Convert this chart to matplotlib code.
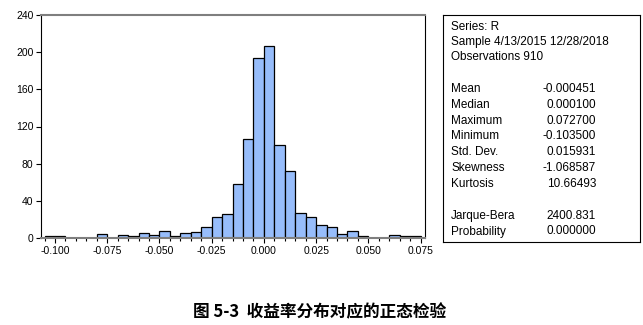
import matplotlib.pyplot as plt
import numpy as np

plt.rcParams['font.family'] = ['Liberation Sans', 'DejaVu Sans']

# histogram of daily returns, bin width 0.005
bin_left = [-0.105, -0.100, -0.095, -0.090, -0.085, -0.080, -0.075, -0.070, -0.065,
            -0.060, -0.055, -0.050, -0.045, -0.040, -0.035, -0.030, -0.025, -0.020,
            -0.015, -0.010, -0.005, 0.000, 0.005, 0.010, 0.015, 0.020, 0.025,
            0.030, 0.035, 0.040, 0.045, 0.050, 0.055, 0.060, 0.065, 0.070]
counts = [2, 2, 0, 0, 0, 4, 0, 3, 2,
          5, 3, 7, 2, 5, 6, 12, 23, 26,
          58, 107, 194, 207, 100, 72, 27, 23, 14,
          12, 4, 7, 2, 0, 0, 3, 2, 2]
bin_width = 0.005

stat_names = ['Mean', 'Median', 'Maximum', 'Minimum', 'Std. Dev.', 'Skewness', 'Kurtosis']
stat_values = ['-0.000451', '0.000100', '0.072700', '-0.103500', '0.015931', '-1.068587', '10.66493']
test_names = ['Jarque-Bera', 'Probability']
test_values = ['2400.831', '0.000000']
header = ['Series: R', 'Sample 4/13/2015 12/28/2018', 'Observations 910']

W, H = 643, 325
fig = plt.figure(figsize=(W / 100, H / 100), dpi=100)
ax = fig.add_axes([41 / W, 1 - 238 / H, (425 - 41) / W, (238 - 15) / H])

ax.bar(bin_left, counts, width=bin_width, align='edge', color='#97bdfb',
       edgecolor='black', linewidth=0.9)
ax.set_xlim(-0.1067, 0.0771)
ax.set_ylim(0, 240)
ax.set_yticks(np.arange(0, 241, 40))
ax.set_xticks([-0.100, -0.075, -0.050, -0.025, 0.0, 0.025, 0.050, 0.075])
ax.set_xticklabels(['-0.100', '-0.075', '-0.050', '-0.025', '0.000', '0.025', '0.050', '0.075'])
ax.set_xticks(np.arange(-0.105, 0.0751, 0.005), minor=True)
ax.tick_params(axis='both', labelsize=7.5, length=3.5, width=0.8, pad=2)
ax.tick_params(axis='x', which='minor', length=2.5, width=0.8)
for s in ['top', 'bottom']:
    ax.spines[s].set_color('#7f7f7f')
    ax.spines[s].set_linewidth(1.5)
for s in ['left', 'right']:
    ax.spines[s].set_color('black')
    ax.spines[s].set_linewidth(0.8)

# statistics box
box = fig.add_axes([443 / W, 1 - 242 / H, (640 - 443) / W, (242 - 15) / H])
box.set_xticks([])
box.set_yticks([])
for s in box.spines.values():
    s.set_linewidth(0.8)

def put(y, text, x=451, ha='left'):
    fig.text(x / W, 1 - y / H, text, fontsize=8.5, ha=ha, va='center')

for i, t in enumerate(header):
    put(27 + 15 * i, t)
for i, (n, v) in enumerate(zip(stat_names, stat_values)):
    put(89 + 15.8 * i, n)
    put(89 + 15.8 * i, v, x=596, ha='right')
for i, (n, v) in enumerate(zip(test_names, test_values)):
    put(216 + 15.5 * i, n)
    put(216 + 15.5 * i, v, x=596, ha='right')

fig.text(320 / W, 1 - 312 / H, '图 5-3  收益率分布对应的正态检验', fontsize=12,
         fontweight='bold', ha='center', va='center',
         family=['Noto Sans CJK SC', 'DejaVu Sans'])

fig.savefig('out.png', dpi=100)
